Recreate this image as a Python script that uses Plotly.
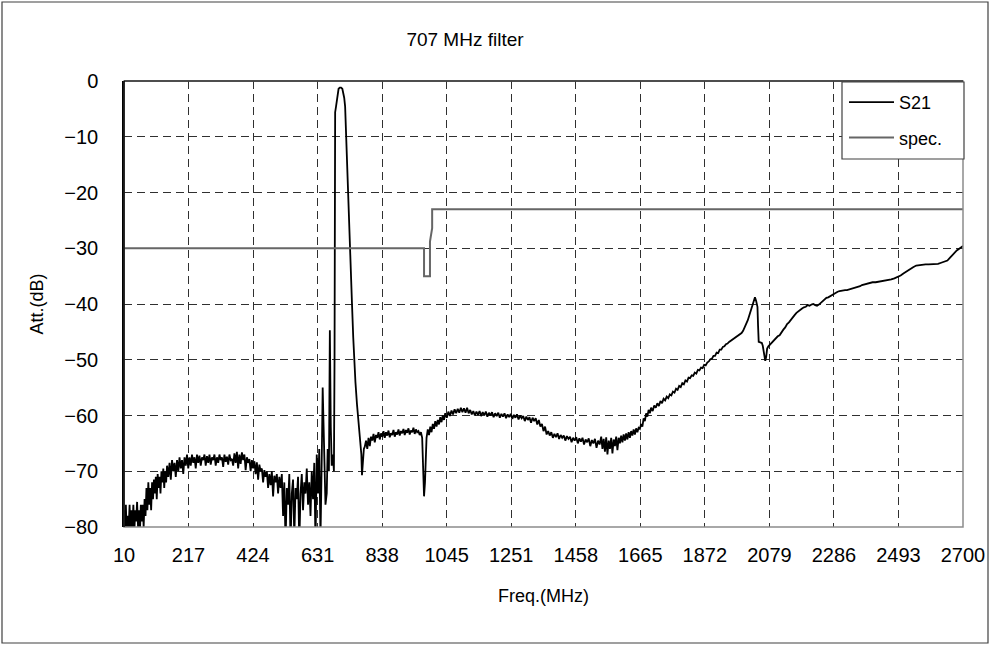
import plotly.graph_objects as go

# ---------------- data ----------------
s21_low_band = [
    (10, -77), (13, -81), (16, -76), (19, -82), (22, -78), (25, -80), (28, -76), (31, -82),
    (34, -77), (37, -80), (40, -76), (43, -81), (46, -77), (49, -79), (52, -75.5), (55, -80),
    (58, -77), (61, -81), (64, -76), (67, -79), (70, -76), (73, -80), (76, -75), (79, -78),
    (82, -73), (85, -77), (88, -72), (91, -76), (94, -73), (97, -77), (100, -72), (103, -75),
    (106, -71.5), (109, -74), (112, -71), (115, -75), (118, -70.5), (121, -73), (124, -71),
    (127, -74), (130, -70), (133, -72), (136, -69.5), (139, -73), (142, -70), (145, -72),
    (148, -69), (152, -71), (156, -68.5), (160, -71.5), (164, -68), (168, -70), (172, -68.5),
    (176, -71), (180, -68), (184, -70), (188, -67.5), (192, -69.5), (196, -68), (200, -70.5),
    (204, -67.5), (208, -69), (212, -67), (216, -69.5), (220, -67.5), (224, -69), (228, -67),
    (232, -68.5), (236, -67.5), (240, -69.5), (244, -67), (248, -68.5), (252, -67.2), (256, -69),
    (260, -67.5), (264, -68), (268, -67), (272, -69), (276, -67.3), (280, -68.5), (284, -67),
    (288, -68.8), (292, -67.5), (296, -68), (300, -67), (304, -69), (308, -67.5), (312, -68.5),
    (316, -67), (320, -68), (324, -67.5), (328, -69.2), (332, -67), (336, -68.3), (340, -67.4),
    (344, -68.8), (348, -67), (352, -68), (356, -67.8), (360, -69), (364, -66.8), (368, -68.5),
    (372, -66.5), (376, -69.5), (380, -67), (384, -68.7), (388, -66.6), (392, -68), (396, -67),
    (400, -69.8), (404, -67.5), (408, -68.5), (412, -67.8), (416, -70), (420, -68), (424, -69.5),
    (428, -68.2), (432, -70.5), (436, -68.4), (440, -71.5), (444, -68.8), (448, -70), (452, -69.5),
    (456, -72), (460, -69.8), (464, -71), (468, -70), (472, -73), (476, -70.5), (480, -72.5),
    (484, -70), (488, -74.5), (492, -70.8), (496, -72), (500, -70.5), (504, -74), (508, -71),
    (512, -73), (516, -70.5), (520, -78), (524, -72), (528, -83), (532, -73), (536, -76),
    (540, -70.5), (544, -83), (548, -74), (552, -71.5), (556, -82), (560, -73), (564, -75),
    (568, -71), (572, -83), (576, -74), (580, -70.5), (584, -77), (588, -72), (592, -74),
    (596, -69.5), (600, -76), (604, -72), (608, -78), (612, -70), (616, -75), (620, -68.5),
    (624, -83), (628, -67), (632, -74), (636, -66), (640, -82), (644, -68), (647, -55),
    (650, -62), (653, -71), (656, -76), (660, -74), (663, -66), (667, -70), (670, -44.7),
    (673, -62), (676, -69), (680, -67),
]

s21_pass_band = [
    (683, -70), (685, -50), (686.5, -20), (687, -5.6), (690, -4.5), (693, -3.4), (695, -2),
    (698, -1.4), (702, -1.2), (706, -1.2), (710, -1.4), (713, -2), (716, -3), (719, -4.6),
    (722, -10), (725, -15.4), (728, -20), (731, -25), (734, -27.5), (736, -32), (741, -40),
    (745, -46), (748, -50), (752, -54), (757, -58), (763, -62.6), (767, -64), (771, -67),
    (773, -70.7), (776, -68), (779, -66), (782, -65.6),
]

s21_mid_band = [
    (786, -64.5), (790, -66), (794, -64), (798, -65.5), (802, -63.8), (806, -64.5), (810, -63.3),
    (814, -64.8), (818, -63.5), (822, -64), (826, -63), (830, -64.3), (834, -63.2), (838, -63.8),
    (842, -62.8), (846, -64), (850, -63), (854, -63.6), (858, -62.7), (862, -63.9), (866, -63.2),
    (870, -63.5), (874, -62.6), (878, -63.8), (882, -63), (886, -63.4), (890, -62.5), (894, -63.6),
    (898, -62.8), (902, -63.2), (906, -62.4), (910, -63.5), (914, -62.6), (918, -63.1),
    (922, -62.3), (926, -63.4), (930, -62.7), (934, -63), (938, -62.2), (942, -63.3), (946, -62.5),
    (950, -63), (954, -62.8), (958, -63.5), (962, -63), (966, -64), (970, -70), (972, -74.5),
    (975, -72), (977, -66), (980, -64), (984, -62.5), (988, -63.5), (992, -62), (996, -63),
    (1000, -61.5), (1004, -62.4), (1008, -61), (1012, -62), (1016, -60.8), (1020, -61.6),
    (1024, -60.3), (1028, -61.2), (1032, -60), (1036, -60.8), (1040, -59.6), (1045, -60.4),
    (1050, -59.3), (1055, -60.1), (1060, -59.1), (1065, -59.8), (1070, -58.9), (1075, -59.6),
    (1080, -58.8), (1085, -59.5), (1090, -58.6), (1095, -59.4), (1100, -58.7), (1105, -59.5),
    (1110, -58.6), (1115, -59.6), (1120, -59), (1125, -59.8), (1130, -59.2), (1135, -60),
    (1140, -59.3), (1145, -59.9), (1150, -59.2), (1155, -60.1), (1160, -59.4), (1165, -60),
    (1170, -59.3), (1175, -60.2), (1180, -59.5), (1185, -60), (1190, -59.4), (1195, -60.3),
    (1200, -59.6), (1205, -60.1), (1210, -59.5), (1215, -60.4), (1220, -59.7), (1225, -60.2),
    (1230, -59.6), (1235, -60.5), (1240, -59.8), (1245, -60.3), (1250, -59.7), (1255, -60.6),
    (1260, -59.9), (1265, -60.4), (1270, -59.8), (1275, -60.7), (1280, -60), (1285, -60.5),
    (1290, -60.1), (1295, -61), (1300, -60.2), (1305, -60.8), (1310, -60.3), (1315, -61.3),
    (1320, -60.4), (1325, -61), (1330, -60.5), (1335, -61.6), (1340, -60.8), (1345, -62),
    (1350, -61.5), (1355, -62.8), (1360, -62), (1365, -63.4), (1370, -62.8), (1375, -63.6),
    (1380, -63), (1385, -64), (1390, -63.3), (1395, -63.9), (1400, -63.2), (1405, -64.2),
    (1410, -63.5), (1415, -64), (1420, -63.6), (1425, -64.5), (1430, -63.7), (1435, -64.2),
    (1440, -63.8), (1445, -64.8), (1450, -64), (1455, -64.5), (1460, -63.9), (1465, -65),
    (1470, -64.1), (1475, -64.7), (1480, -64), (1485, -65.2), (1490, -64.3), (1495, -64.8),
    (1500, -64.1), (1505, -65.5), (1510, -64.4), (1515, -65), (1520, -64.2), (1525, -65.8),
    (1530, -64.5), (1535, -65.2), (1540, -63.8), (1544, -66), (1548, -64.2), (1552, -66.5),
    (1556, -63.9), (1560, -67), (1564, -64.5), (1568, -66), (1572, -64), (1576, -66.8),
    (1580, -64.3), (1584, -65.5), (1588, -63.8), (1592, -66.2), (1596, -64), (1600, -65),
    (1604, -63.6), (1608, -64.8), (1612, -63.4), (1616, -64.5), (1620, -63.2), (1624, -64.3),
    (1628, -63), (1632, -64), (1636, -62.8), (1640, -63.6), (1644, -62.5), (1648, -63.4),
    (1652, -62.3), (1656, -63), (1660, -62.2),
]

s21_high_band = [
    (1664, -62.4), (1668, -61.5), (1672, -62), (1676, -60.5), (1680, -61), (1684, -59.6),
    (1688, -60.2), (1692, -59), (1696, -59.6), (1700, -58.6), (1705, -59.2), (1710, -58.2),
    (1715, -58.6), (1720, -57.8), (1725, -58.3), (1730, -57.4), (1735, -57.8), (1740, -57),
    (1745, -57.3), (1750, -56.6), (1755, -56.9), (1760, -56.2), (1765, -56.4), (1770, -55.7),
    (1775, -55.9), (1780, -55.2), (1785, -55.4), (1790, -54.7), (1795, -54.9), (1800, -54.2),
    (1805, -54.4), (1810, -53.7), (1815, -53.9), (1820, -53.2), (1825, -53.3), (1830, -52.8),
    (1835, -52.9), (1840, -52.3), (1845, -52.5), (1850, -51.8), (1855, -51.9), (1860, -51.4),
    (1865, -51.5), (1870, -50.9), (1875, -51), (1880, -50.5), (1885, -50.3), (1890, -49.9),
    (1895, -49.8), (1900, -49.3), (1905, -49.3), (1910, -48.7), (1915, -48.8), (1920, -48.2),
    (1925, -48.2), (1930, -47.7), (1935, -47.6), (1940, -47.2), (1945, -47.1), (1950, -46.8),
    (1955, -46.6), (1960, -46.4), (1965, -46.2), (1970, -46), (1975, -45.9), (1980, -45.7),
    (1985, -45.5), (1990, -45.2), (1995, -44.8), (2000, -44.2), (2005, -43.5), (2010, -42.9),
    (2015, -42), (2020, -41.2), (2025, -40.3), (2030, -39.5), (2033, -38.8), (2037, -39.5),
    (2041, -40.5), (2043, -44), (2045, -46.8), (2050, -46.9), (2055, -47), (2058, -47.5),
    (2062, -49), (2066, -50.2), (2069, -49.5), (2072, -48), (2076, -47.6), (2082, -47.2),
    (2088, -46.8), (2094, -46.5), (2100, -46.2), (2106, -45.8), (2112, -45.6), (2118, -45),
    (2124, -44.6), (2130, -44.2), (2136, -43.6), (2142, -43.3), (2148, -42.8), (2154, -42.4),
    (2160, -42), (2166, -41.6), (2172, -41.3), (2178, -41), (2184, -40.8), (2190, -40.6),
    (2196, -40.5), (2202, -40.2), (2208, -40.3), (2214, -40.1), (2220, -40), (2226, -40.2),
    (2232, -40.3), (2238, -40.1), (2244, -39.8), (2250, -39.4), (2256, -39.2), (2262, -38.9),
    (2268, -38.8), (2274, -38.6), (2280, -38.4), (2286, -38.2), (2292, -37.9), (2298, -37.8),
    (2304, -37.7), (2310, -37.6), (2316, -37.6), (2322, -37.5), (2328, -37.5), (2334, -37.4),
    (2340, -37.4), (2346, -37.3), (2352, -37.2), (2358, -37), (2364, -36.9), (2370, -36.8),
    (2376, -36.6), (2382, -36.5), (2388, -36.4), (2394, -36.3), (2400, -36.2), (2410, -36.1),
    (2420, -36.1), (2430, -36), (2440, -35.9), (2450, -35.9), (2460, -35.7), (2470, -35.6),
    (2480, -35.4), (2490, -35.2), (2500, -34.9), (2510, -34.5), (2520, -34.1), (2530, -33.7),
    (2540, -33.4), (2550, -33.1), (2560, -33), (2570, -33), (2580, -32.9), (2590, -32.9),
    (2600, -32.9), (2610, -32.8), (2620, -32.8), (2630, -32.6), (2640, -32.4), (2650, -32.2),
    (2660, -31.6), (2670, -31), (2680, -30.4), (2690, -30), (2700, -29.6),
]

spec_freq = [10, 972, 972, 991, 991, 998, 998, 2700]
spec_db = [-30, -30, -35, -35, -28.8, -26.4, -23, -23]

x_tick_vals = [10, 216.9, 423.8, 630.8, 837.7, 1044.6, 1251.5, 1458.5, 1665.4, 1872.3,
               2079.2, 2286.2, 2493.1, 2700]
x_tick_text = ["10", "217", "424", "631", "838", "1045", "1251", "1458", "1665", "1872",
               "2079", "2286", "2493", "2700"]
y_tick_vals = [0, -10, -20, -30, -40, -50, -60, -70, -80]

# ---------------- figure ----------------
s21 = s21_low_band + s21_pass_band + s21_mid_band + s21_high_band
s21_freq = [p[0] for p in s21]
s21_db = [p[1] for p in s21]

FONT = "Liberation Sans, Arial, sans-serif"

fig = go.Figure()
fig.add_trace(go.Scatter(x=s21_freq, y=s21_db, mode="lines", name="S21",
                         line=dict(color="#000000", width=1.8), legendgroup="a"))
fig.add_trace(go.Scatter(x=spec_freq, y=spec_db, mode="lines", name="spec.",
                         line=dict(color="#666666", width=2), legendgroup="b"))

L, R, T, B = 124, 28, 81, 118
W, H = 991, 645
pw, ph = W - L - R, H - T - B

def px(xp):
    return (xp - L) / pw

def py(yp):
    return (H - B - yp) / ph

fig.update_layout(
    width=W, height=H,
    margin=dict(l=L, r=R, t=T, b=B, autoexpand=False),
    paper_bgcolor="white", plot_bgcolor="white",
    font=dict(family=FONT, size=20, color="#000"),
    title=dict(text="707 MHz filter", x=465 / W, xref="container", xanchor="center",
               y=1 - 39 / H, yref="container", yanchor="middle",
               font=dict(size=19, family=FONT, color="#000")),
    showlegend=True,
    legend=dict(x=px(844), xanchor="left", y=py(84), yanchor="top",
                bgcolor="rgba(0,0,0,0)", borderwidth=0,
                font=dict(size=18, family=FONT), itemwidth=45,
                tracegroupgap=9, traceorder="grouped"),
    xaxis=dict(range=[10, 2700], tickmode="array", tickvals=x_tick_vals, ticktext=x_tick_text,
               showgrid=True, gridcolor="#303030", gridwidth=1, griddash="8px,5px",
               zeroline=False, showline=False, ticks="", ticklabelstandoff=14,
               tickfont=dict(size=20),
               title=dict(text="Freq.(MHz)", standoff=24, font=dict(size=18))),
    yaxis=dict(range=[-80, 0], tickmode="array", tickvals=y_tick_vals,
               showgrid=True, gridcolor="#303030", gridwidth=1, griddash="8px,5px",
               zeroline=False, showline=True, linecolor="#000", linewidth=1.5,
               ticks="", ticklabelstandoff=20, tickfont=dict(size=20),
               title=dict(text="Att.(dB)", standoff=16, font=dict(size=18))),
)

shapes = [
    # plot-area frame (right and bottom gray)
    dict(type="rect", xref="paper", yref="paper", x0=0, x1=1, y0=0, y1=1,
         line=dict(color="#8c8c8c", width=1.5), layer="above"),
    # top edge darker
    dict(type="line", xref="paper", yref="paper", x0=0, x1=1, y0=1, y1=1,
         line=dict(color="#303030", width=1.5), layer="above"),
    # left axis
    dict(type="line", xref="paper", yref="paper", x0=0, x1=0, y0=0, y1=1,
         line=dict(color="#000", width=1.5), layer="above"),
    # legend box
    dict(type="rect", xref="paper", yref="paper", x0=px(842), x1=px(964), y0=py(159), y1=py(82),
         line=dict(color="#404040", width=1.2), fillcolor="white", layer="above"),
    # outer chart border
    dict(type="rect", xref="paper", yref="paper", x0=px(2), x1=px(988), y0=py(643), y1=py(2),
         line=dict(color="#404040", width=1.2), layer="below"),
]
fig.update_layout(shapes=shapes)

fig.write_html("out.html", config={"displayModeBar": False},
               post_script="document.body.style.margin='0';")
